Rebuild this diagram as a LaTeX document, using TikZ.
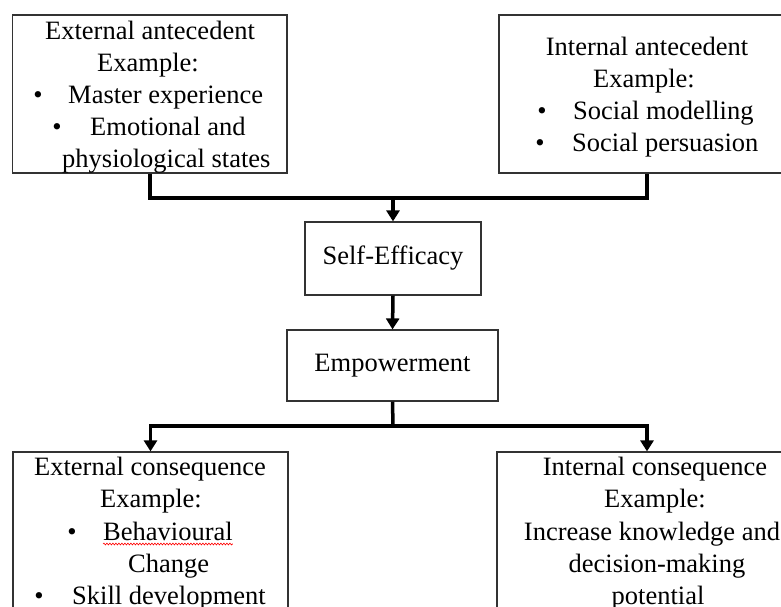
\documentclass[tikz,border=0pt]{standalone}
\usepackage{fontspec}
\setmainfont{Liberation Serif}
\usetikzlibrary{arrows.meta,decorations.pathmorphing}
\begin{document}
\begin{tikzpicture}[x=1pt,y=-1pt,
  box/.style={draw=black!80,line width=1.2pt,rectangle,inner sep=0pt},
  txt/.style={inner sep=0pt,font=\fontsize{26.5}{32}\selectfont},
  conn/.style={line width=3.5pt,black},
  arr/.style={conn,-{Triangle[width=13pt,length=11pt]}}]
\useasboundingbox (0,0) rectangle (781,606);
\clip (0,0) rectangle (781,606);
\fill[white] (0,0) rectangle (781,606);
% boxes
\node[box,minimum width=274.5pt,minimum height=158pt] (TL) at (149.75,94) {};
\node[box,minimum width=296pt,minimum height=158pt] (TR) at (647,94) {};
\node[box,minimum width=176pt,minimum height=73pt] (SE) at (393,258.5) {};
\node[box,minimum width=211pt,minimum height=71pt] (EM) at (392.5,365.5) {};
\node[box,minimum width=275pt,minimum height=170pt] (BL) at (150.5,537) {};
\node[box,minimum width=300pt,minimum height=170pt] (BR) at (647,537) {};
% top-left text
\node[txt,anchor=base] (tl1) at (150,39) {External antecedent};
\node[txt,anchor=base] (tl2) at (148,71) {Example:};
\node[txt,anchor=base] (tl3b) at (38,103) {•};
\node[txt,anchor=base west] (tl3) at (68,103) {Master experience};
\node[txt,anchor=base] (tl4b) at (57,135) {•};
\node[txt,anchor=base west] (tl4) at (90,135) {Emotional and};
\node[txt,anchor=base west] (tl5) at (62,167) {physiological states};
% top-right text
\node[txt,anchor=base] (tr1) at (647,55) {Internal antecedent};
\node[txt,anchor=base] (tr2) at (644,87) {Example:};
\node[txt,anchor=base] (tr3b) at (542,119) {•};
\node[txt,anchor=base west] (tr3) at (573,119) {Social modelling};
\node[txt,anchor=base] (tr4b) at (540,151) {•};
\node[txt,anchor=base west] (tr4) at (572,151) {Social persuasion};
% centre
\node[txt] (set) at (SE) {Self-Efficacy};
\node[txt] (emt) at (EM) {Empowerment};
% bottom-left text
\node[txt,anchor=base] (bl1) at (150,475) {External consequence};
\node[txt,anchor=base] (bl2) at (151,507) {Example:};
\node[txt,anchor=base] (bl3b) at (72,540) {•};
\node[txt,anchor=base west] (bl3) at (103,540) {Behavioural};
\node[txt,anchor=base west] (bl4) at (128,572) {Change};
\node[txt,anchor=base] (bl5b) at (39,604) {•};
\node[txt,anchor=base west] (bl5) at (72,604) {Skill development};
\draw[red,line width=0.6pt,decorate,decoration={snake,amplitude=0.9pt,segment length=3pt}]
  ([yshift=-4pt]bl3.base west) -- ([yshift=-4pt]bl3.base east);
% bottom-right text
\node[txt,anchor=base] (br1) at (655,475) {Internal consequence};
\node[txt,anchor=base] (br2) at (655,507) {Example:};
\node[txt,anchor=base] (br3) at (652,540) {Increase knowledge and};
\node[txt,anchor=base] (br4) at (657,572) {decision-making};
\node[txt,anchor=base] (br5) at (658,604) {potential};
% connectors
\coordinate (j1) at (393,198);
\coordinate (j2) at (393,426);
\draw[conn] (TL.south) |- (j1) -| (TR.south);
\draw[arr] (j1) -- (SE.north);
\draw[arr] (SE.south) -- (EM.north);
\draw[conn] (EM.south) -- (j2);
\draw[arr] (j2) -| (BL.north);
\draw[arr] (j2) -| (BR.north);
\end{tikzpicture}
\end{document}
